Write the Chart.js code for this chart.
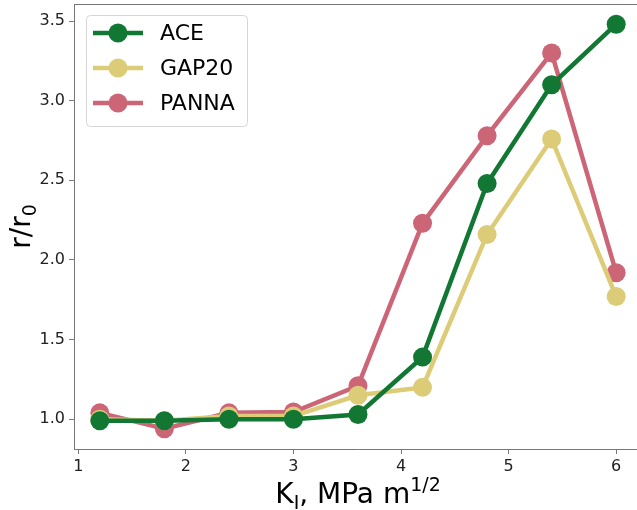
<!DOCTYPE html>
<html><head><meta charset="utf-8">
<script src="https://cdn.jsdelivr.net/npm/chart.js@4.4.1/dist/chart.umd.min.js"></script>
<style>html,body{margin:0;padding:0;overflow:hidden;background:#fff;width:637px;height:510px}canvas{display:block}</style>
</head><body>
<canvas id="c" width="642" height="510"></canvas>
<script>
const kValues = [1.2, 1.8, 2.4, 3.0, 3.6, 4.2, 4.8, 5.4, 6.0];
const aceValues = [0.99, 0.99, 1.00, 1.00, 1.03, 1.39, 2.48, 3.10, 3.48];
const gapValues = [1.00, 0.99, 1.02, 1.02, 1.15, 1.20, 2.16, 2.76, 1.77];
const pannaValues = [1.04, 0.94, 1.04, 1.045, 1.21, 2.23, 2.78, 3.30, 1.92];
const seriesNames = ['ACE', 'GAP20', 'PANNA'];
const seriesColors = ['#117733', '#DDCC77', '#CC6677'];
const xTicks = [1, 2, 3, 4, 5, 6];
const yTicks = [1.0, 1.5, 2.0, 2.5, 3.0, 3.5];

const allSeries = [aceValues, gapValues, pannaValues];
const datasets = allSeries.map((vals, i) => ({
  label: seriesNames[i],
  data: kValues.map((k, j) => ({x: k, y: vals[j]})),
  borderColor: seriesColors[i],
  backgroundColor: seriesColors[i],
  pointBackgroundColor: seriesColors[i],
  pointBorderWidth: 0,
  pointRadius: 9.5,
  borderWidth: 4.5,
  tension: 0,
  clip: false
}));

const FONT = "'DejaVu Sans', sans-serif";
const tickColor = '#222';
const spineColor = '#777';

const extras = {
  id: 'extras',
  afterDraw(chart) {
    const ctx = chart.ctx, a = chart.chartArea;
    ctx.save();
    // top spine
    ctx.strokeStyle = spineColor; ctx.lineWidth = 1;
    ctx.beginPath(); ctx.moveTo(a.left, a.top + 0.5); ctx.lineTo(a.right, a.top + 0.5); ctx.stroke();

    // x title: K_I, MPa m^{1/2}
    ctx.fillStyle = '#000';
    ctx.textBaseline = 'alphabetic';
    const big = '28px ' + FONT, small = '19px ' + FONT;
    const parts = [
      {t: 'K', f: big, dy: 0},
      {t: 'I', f: small, dy: 6},
      {t: ', MPa m', f: big, dy: 0},
      {t: '1/2', f: small, dy: -12}
    ];
    let w = 0;
    parts.forEach(p => { ctx.font = p.f; p.w = ctx.measureText(p.t).width; w += p.w; });
    let x = (a.left + a.right) / 2 - w / 2;
    const base = 503;
    ctx.textAlign = 'left';
    parts.forEach(p => { ctx.font = p.f; ctx.fillText(p.t, x, base + p.dy); x += p.w; });

    // y title: r/r_0
    ctx.save();
    ctx.translate(30, (a.top + a.bottom) / 2);
    ctx.rotate(-Math.PI / 2);
    const yparts = [
      {t: 'r/r', f: big, dy: 0},
      {t: '0', f: small, dy: 6}
    ];
    let yw = 0;
    yparts.forEach(p => { ctx.font = p.f; p.w = ctx.measureText(p.t).width; yw += p.w; });
    let yx = -yw / 2;
    yparts.forEach(p => { ctx.font = p.f; ctx.fillText(p.t, yx, p.dy); yx += p.w; });
    ctx.restore();

    // legend
    const lx = 86, ly = 15, lw = 161, lh = 111;
    ctx.fillStyle = 'rgba(255,255,255,0.8)';
    ctx.strokeStyle = '#d6d6d6'; ctx.lineWidth = 1;
    ctx.beginPath();
    if (ctx.roundRect) ctx.roundRect(lx + 0.5, ly + 0.5, lw, lh, 4); else ctx.rect(lx + 0.5, ly + 0.5, lw, lh);
    ctx.fill(); ctx.stroke();
    ctx.font = '22px ' + FONT;
    ctx.textBaseline = 'middle';
    seriesNames.forEach((n, i) => {
      const cy = 33 + i * 35;
      ctx.strokeStyle = seriesColors[i]; ctx.lineWidth = 4.5;
      ctx.beginPath(); ctx.moveTo(93, cy); ctx.lineTo(143, cy); ctx.stroke();
      ctx.fillStyle = seriesColors[i];
      ctx.beginPath(); ctx.arc(118, cy, 9.5, 0, Math.PI * 2); ctx.fill();
      ctx.fillStyle = '#000';
      ctx.fillText(n, 160, cy + 1);
    });
    ctx.restore();
  }
};

new Chart(document.getElementById('c'), {
  type: 'line',
  data: {datasets},
  options: {
    responsive: false,
    animation: false,
    layout: {autoPadding: false, padding: {top: 4, right: 0, left: 0, bottom: 0}},
    plugins: {legend: {display: false}, tooltip: {enabled: false}},
    scales: {
      x: {
        type: 'linear', min: 0.96, max: 6.24,
        afterBuildTicks(s) { s.ticks = xTicks.map(v => ({value: v})); },
        afterFit(s) { s.height = 61; s.paddingLeft = 0; s.paddingRight = 0; },
        grid: {drawOnChartArea: false, drawTicks: true, tickLength: 5, color: spineColor},
        border: {color: spineColor, width: 1},
        ticks: {color: tickColor, font: {family: FONT, size: 16}, padding: 3, maxRotation: 0,
                callback: v => String(v)}
      },
      y: {
        type: 'linear', min: 0.813, max: 3.607,
        afterBuildTicks(s) { s.ticks = yTicks.map(v => ({value: v})); },
        afterFit(s) { s.width = 74; s.paddingTop = 0; s.paddingBottom = 0; },
        grid: {drawOnChartArea: false, drawTicks: true, tickLength: 5, color: spineColor},
        border: {color: spineColor, width: 1},
        ticks: {color: tickColor, font: {family: FONT, size: 16}, padding: 4,
                callback: v => v.toFixed(1)}
      }
    }
  },
  plugins: [extras]
});
</script>
</body></html>
